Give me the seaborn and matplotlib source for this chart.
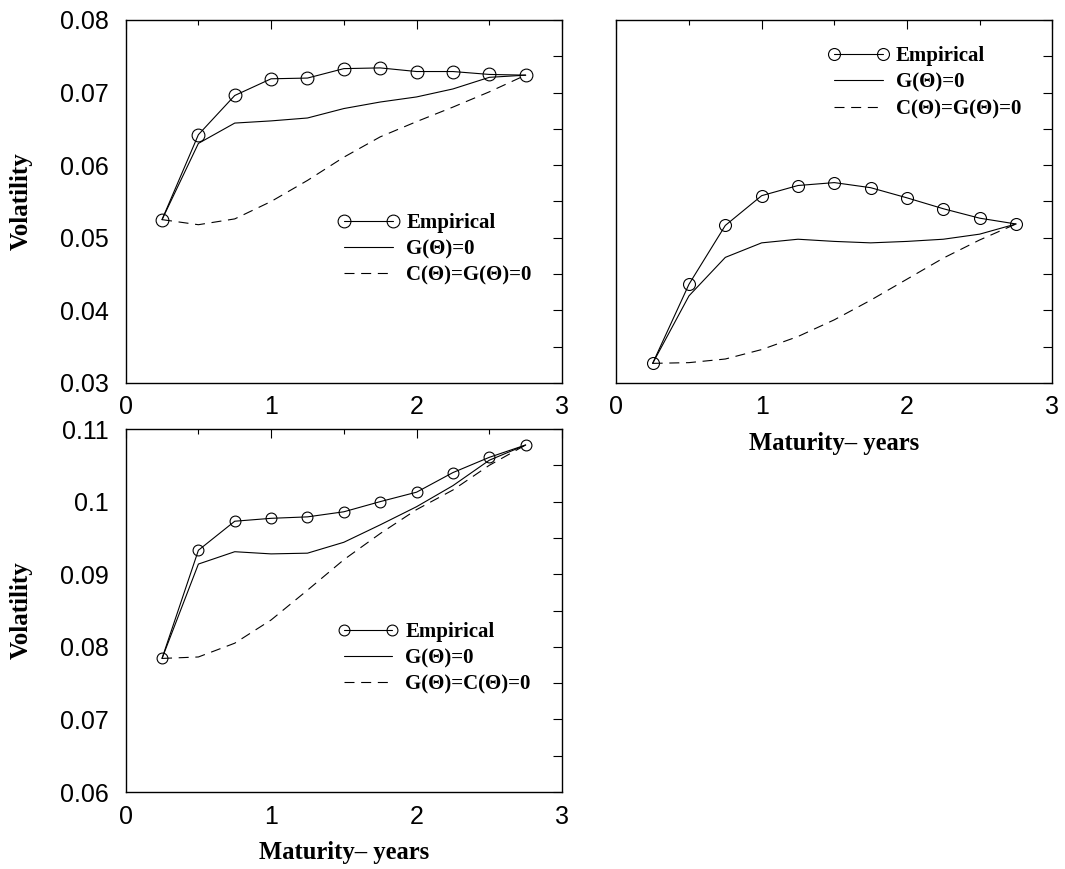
import matplotlib
matplotlib.use("Agg")
import matplotlib.pyplot as plt
import pandas as pd
import seaborn as sns
from matplotlib.ticker import MultipleLocator, FuncFormatter
from matplotlib.font_manager import FontProperties

# Maturities (years) of the volatility term structures
maturity = [0.25, 0.5, 0.75, 1.0, 1.25, 1.5, 1.75, 2.0, 2.25, 2.5, 2.75]

# Upper-left panel
a_empirical = [0.0525, 0.0642, 0.0696, 0.0719, 0.0720, 0.0733, 0.0734, 0.0729, 0.0729, 0.0725, 0.0724]
a_g_zero = [0.0525, 0.0630, 0.0658, 0.0661, 0.0665, 0.0678, 0.0687, 0.0694, 0.0705, 0.0721, 0.0724]
a_cg_zero = [0.0525, 0.0518, 0.0526, 0.0550, 0.0579, 0.0611, 0.0639, 0.0660, 0.0680, 0.0701, 0.0724]

# Upper-right panel
b_empirical = [0.0327, 0.0436, 0.0517, 0.0558, 0.0572, 0.0576, 0.0569, 0.0555, 0.0540, 0.0527, 0.0519]
b_g_zero = [0.0327, 0.0420, 0.0473, 0.0493, 0.0498, 0.0495, 0.0493, 0.0495, 0.0498, 0.0505, 0.0519]
b_cg_zero = [0.0327, 0.0328, 0.0333, 0.0346, 0.0364, 0.0387, 0.0414, 0.0443, 0.0472, 0.0497, 0.0519]

# Lower-left panel
c_empirical = [0.0784, 0.0933, 0.0973, 0.0977, 0.0979, 0.0986, 0.1000, 0.1013, 0.1040, 0.1061, 0.1078]
c_g_zero = [0.0784, 0.0914, 0.0931, 0.0928, 0.0929, 0.0944, 0.0968, 0.0993, 0.1022, 0.1057, 0.1078]
c_gc_zero = [0.0784, 0.0786, 0.0805, 0.0837, 0.0878, 0.0920, 0.0956, 0.0989, 0.1016, 0.1050, 0.1078]

labels_a = ["Empirical", "G(Θ)=0", "C(Θ)=G(Θ)=0"]
labels_b = ["Empirical", "G(Θ)=0", "C(Θ)=G(Θ)=0"]
labels_c = ["Empirical", "G(Θ)=0", "G(Θ)=C(Θ)=0"]

y_limits_top = (0.03, 0.08)
y_limits_bottom = (0.06, 0.11)

sns.set_theme(style="white")
plt.rcParams["font.family"] = ["Liberation Sans", "DejaVu Sans"]
plt.rcParams["text.color"] = "black"
plt.rcParams["axes.labelcolor"] = "black"
plt.rcParams["xtick.color"] = "black"
plt.rcParams["ytick.color"] = "black"

serif = ["Liberation Serif", "DejaVu Serif"]
ylabel_font = FontProperties(family=serif, weight="bold", size=18)
xlabel_font = FontProperties(family=serif, weight="bold", size=17.7)
legend_font = FontProperties(family=serif, weight="bold", size=15)

fig = plt.figure(figsize=(10.65, 8.69), dpi=100)
ax1 = fig.add_axes([0.118, 0.5593, 0.4097, 0.4177])
ax2 = fig.add_axes([0.5787, 0.5593, 0.4094, 0.4177])
ax3 = fig.add_axes([0.118, 0.0886, 0.4097, 0.4177])


def tick_text(v, pos):
    s = f"{v:.2f}"
    return s[:-1] if s.endswith("0") and s != "0.00" else s


def draw_panel(ax, emp, g0, cg0, labels, ylim, msize, legend_anchor):
    df = pd.DataFrame({"maturity": maturity, "emp": emp, "g0": g0, "cg0": cg0})
    sns.lineplot(data=df, x="maturity", y="emp", ax=ax, color="black", lw=0.8,
                 marker="o", markersize=msize, markerfacecolor="none",
                 markeredgecolor="black", markeredgewidth=0.8, label=labels[0])
    sns.lineplot(data=df, x="maturity", y="g0", ax=ax, color="black", lw=0.8,
                 label=labels[1])
    sns.lineplot(data=df, x="maturity", y="cg0", ax=ax, color="black", lw=0.8,
                 linestyle=(0, (9, 6)), label=labels[2])

    ax.set_xlim(0, 3)
    ax.set_ylim(*ylim)
    ax.xaxis.set_major_locator(MultipleLocator(1))
    ax.xaxis.set_minor_locator(MultipleLocator(0.5))
    ax.yaxis.set_major_locator(MultipleLocator(0.01))
    ax.yaxis.set_minor_locator(MultipleLocator(0.005))
    ax.yaxis.set_major_formatter(FuncFormatter(tick_text))
    ax.xaxis.set_major_formatter(FuncFormatter(lambda v, p: f"{v:g}"))

    ax.tick_params(axis="both", which="both", direction="in", top=True, right=True,
                   width=0.8, color="black", labelsize=18, labelcolor="black")
    ax.tick_params(axis="x", which="major", length=6.5, pad=9)
    ax.tick_params(axis="x", which="minor", length=3.5)
    ax.tick_params(axis="y", which="both", length=6.5, pad=12)

    for s in ax.spines.values():
        s.set_color("black")
        s.set_linewidth(1.0)
    ax.set_xlabel("")
    ax.set_ylabel("")

    handles, labs = ax.get_legend_handles_labels()
    leg = ax.legend(handles, labs, loc="upper left", bbox_to_anchor=legend_anchor,
                    frameon=False, borderpad=0, borderaxespad=0, numpoints=2,
                    handlelength=2.93, handletextpad=0.34, labelspacing=0.3,
                    prop=legend_font)
    for t in leg.get_texts():
        t.set_color("black")


draw_panel(ax1, a_empirical, a_g_zero, a_cg_zero, labels_a, y_limits_top, 9.2, (0.487, 0.468))
draw_panel(ax2, b_empirical, b_g_zero, b_cg_zero, labels_b, y_limits_top, 8.6, (0.4855, 0.927))
draw_panel(ax3, c_empirical, c_g_zero, c_gc_zero, labels_c, y_limits_bottom, 7.8, (0.485, 0.468))

ax2.tick_params(axis="y", which="both", labelleft=False)

for ax in (ax1, ax3):
    ax.set_ylabel("Volatility", fontproperties=ylabel_font, color="black")
    ax.yaxis.set_label_coords(-0.2125, 0.5)
for ax in (ax2, ax3):
    ax.set_xlabel("Maturity\u2013 years", fontproperties=xlabel_font, color="black")
    ax.xaxis.set_label_coords(0.5, -0.135)

fig.savefig("out.png", dpi=100, facecolor="white")
